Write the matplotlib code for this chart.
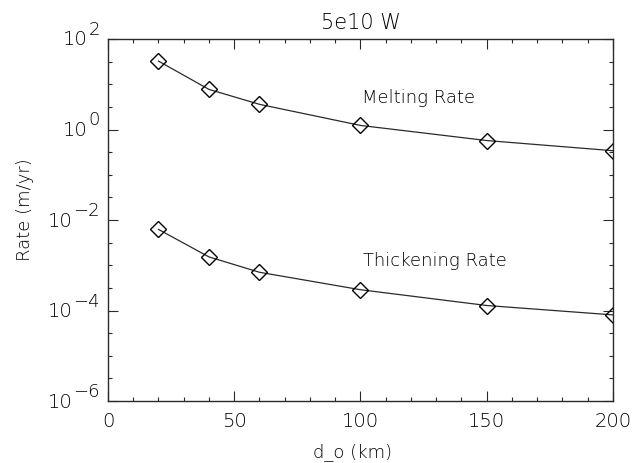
import numpy as np
import matplotlib
matplotlib.use("Agg")
import matplotlib.pyplot as plt
from matplotlib.ticker import FixedLocator, NullFormatter
import matplotlib.transforms as mtransforms

# -------------------- data ----------------------------------------------
d_o = [20, 40, 60, 100, 150, 200]
melting = [32.5, 7.7, 3.6, 1.23, 0.57, 0.34]
thickening = [6.2e-3, 1.53e-3, 7.0e-4, 2.88e-4, 1.29e-4, 8.0e-5]
y_exps = [-6, -4, -2, 0, 2]

INK = "#2a2a2a"
TXT = "#000000"
plt.rcParams["font.family"] = ["DejaVu Sans"]
plt.rcParams["font.weight"] = "light"
plt.rcParams["axes.titleweight"] = "light"
plt.rcParams["axes.labelweight"] = "light"

fig = plt.figure(figsize=(6.35, 4.64), dpi=100)
ax = fig.add_axes([0.170, 0.1336, 0.7953, 0.7802])

for ys in (melting, thickening):
    ax.plot(d_o, ys, color=INK, lw=0.9, marker="D", ms=8.6, mfc="none",
            mec="black", mew=1.0, clip_on=True)

ax.set_yscale("log")
ax.set_xlim(0, 200)
ax.set_ylim(1e-6, 1e2)

ax.xaxis.set_major_locator(FixedLocator(np.arange(0, 201, 50)))
ax.xaxis.set_minor_locator(FixedLocator(np.arange(0, 201, 10)))
ax.yaxis.set_major_locator(FixedLocator([10.0 ** e for e in y_exps]))
ax.yaxis.set_minor_locator(FixedLocator(10 ** np.arange(-6, 2.01, 0.5)))
ax.yaxis.set_major_formatter(NullFormatter())
ax.yaxis.set_minor_formatter(NullFormatter())

ax.tick_params(which="both", direction="in", top=True, right=True,
               colors=INK, labelcolor=TXT, labelsize=14, width=0.8)
ax.tick_params(which="major", length=7, pad=7)
ax.tick_params(which="minor", length=3)
for s in ax.spines.values():
    s.set_linewidth(1.0); s.set_color(INK)

# y tick labels drawn IDL-style: "10" with a near full size exponent
ytrans = mtransforms.blended_transform_factory(ax.transAxes, ax.transData)
for e in y_exps:
    ex = ax.annotate(str(e).replace("-", "\u2212"), xy=(0, 10.0 ** e), xycoords=ytrans,
                     xytext=(-8, 10), textcoords="offset pixels",
                     ha="right", va="center", fontsize=13, color=TXT)
    ax.annotate("10", xy=(0, 0.5), xycoords=ex, xytext=(-1, -10),
                textcoords="offset pixels", ha="right", va="center",
                fontsize=14, color=TXT)

ax.text(100.6, 5.3, "Melting Rate", fontsize=13, color=TXT, va="center")
ax.text(101, 1.29e-3, "Thickening Rate", fontsize=13, color=TXT, va="center")

ax.set_title("5e10 W", fontsize=15, color=TXT, pad=8)
ax.set_xlabel("d_o (km)", fontsize=13, color=TXT)
ax.set_ylabel("Rate (m/yr)", fontsize=13, color=TXT)
ax.xaxis.set_label_coords(0.485, -0.113)
ax.yaxis.set_label_coords(-0.147, 0.53)

fig.savefig("out.png", dpi=100)
